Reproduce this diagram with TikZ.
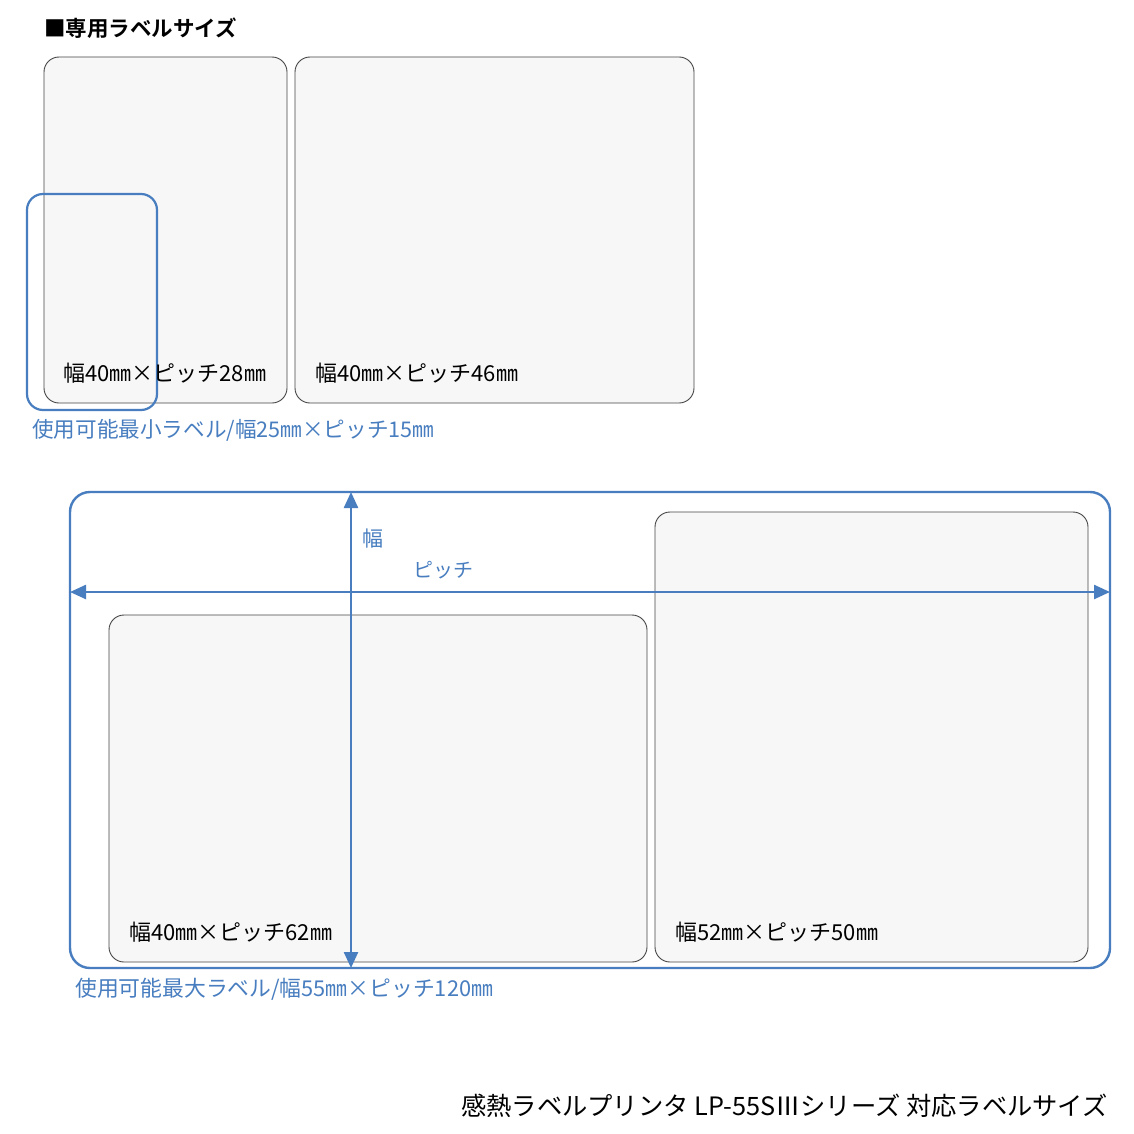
\documentclass[tikz,border=0pt]{standalone}
\usepackage{fontspec}
\usepackage{xcolor}
\newfontfamily\jp{Noto Sans CJK JP}[BoldFont={Noto Sans CJK JP Bold}]
\usetikzlibrary{arrows.meta}
\definecolor{sizeblue}{RGB}{72,126,192}
\definecolor{sheetfill}{RGB}{247,247,247}
\definecolor{sheetedge}{RGB}{70,70,70}

\begin{document}
\begin{tikzpicture}[x = 1pt, y = -1pt,
sheet/.style = {draw=sheetedge, line width=0.9pt, fill=sheetfill, rounded corners=15pt, inner sep=0pt, outer sep=0pt},
limit/.style = {draw=sizeblue, line width=2.2pt, rounded corners=16pt, inner sep=0pt, outer sep=0pt},
sizetext/.style = {font=\jp\fontsize{22}{22}\selectfont, inner sep=0pt, anchor=west},
bluetext/.style = {sizetext, text=sizeblue},
dimarrow/.style = {draw=sizeblue, line width=2.4pt, {Triangle[length=16pt,width=14pt]}-{Triangle[length=16pt,width=14pt]}}]
\fill[white] (0,0) rectangle (1134,1134);
\useasboundingbox (0,0) rectangle (1134,1134);

% title
\node[sizetext, font=\jp\bfseries\fontsize{21.5}{21.5}\selectfont] (title) at (44,28) {■専用ラベルサイズ};

% dedicated labels
\node[sheet, minimum width=243pt, minimum height=346pt] (sheetA) at (165.5,230) {};
\node[sheet, minimum width=399pt, minimum height=346pt] (sheetB) at (494.5,230) {};
\node[limit, minimum width=130pt, minimum height=216pt] (minlimit) at (92,302) {};

\node[sizetext] (textA) at (63,373) {幅40㎜×ピッチ28㎜};
\node[sizetext] (textB) at (315,373) {幅40㎜×ピッチ46㎜};
\node[bluetext, font=\jp\fontsize{21.6}{21.6}\selectfont] (mintext) at (32,430) {使用可能最小ラベル/幅25㎜×ピッチ15㎜};

% maximum label area
\node[limit, line width=2.4pt, rounded corners=20pt, minimum width=1040pt, minimum height=476pt] (maxlimit) at (590,730) {};
\node[sheet, minimum width=538pt, minimum height=347pt] (sheetC) at (378,788.5) {};
\node[sheet, minimum width=433pt, minimum height=450pt] (sheetD) at (871.5,737) {};

\node[sizetext] (textC) at (129,932) {幅40㎜×ピッチ62㎜};
\node[sizetext] (textD) at (675,932) {幅52㎜×ピッチ50㎜};

\coordinate (widthx) at (351,0);
\coordinate (pitchy) at (0,592);
\draw[dimarrow] (maxlimit.south -| widthx) -- (maxlimit.north -| widthx);
\draw[dimarrow] (maxlimit.west |- pitchy) -- (maxlimit.east |- pitchy);

\node[bluetext, font=\jp\fontsize{21}{21}\selectfont] (widthtext) at (362,539) {幅};
\node[bluetext, font=\jp\fontsize{20}{20}\selectfont] (pitchtext) at (413,570) {ピッチ};
\node[bluetext, font=\jp\fontsize{21.8}{21.8}\selectfont] (maxtext) at (75,989) {使用可能最大ラベル/幅55㎜×ピッチ120㎜};

% caption
\node[sizetext, anchor=east, font=\jp\fontsize{25.3}{25.3}\selectfont] (caption) at (1108,1106) {感熱ラベルプリンタ LP-55SⅢシリーズ 対応ラベルサイズ};
\end{tikzpicture}
\end{document}
